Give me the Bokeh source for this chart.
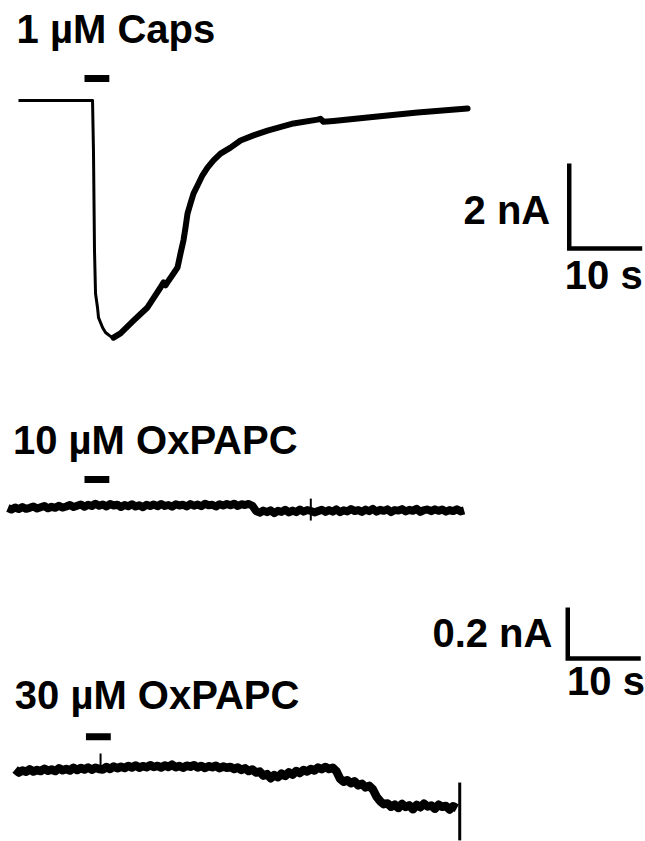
from bokeh.plotting import figure
from bokeh.models import Range1d
from bokeh.core.properties import value
from bokeh.embed import file_html
from bokeh.resources import INLINE

# ---------------- data ----------------
# Trace 1: 1 uM capsaicin (time in s from stimulus onset, current in nA)
caps_t = [-9.04, 1.10, 1.23, 1.37, 1.51, 1.78, 1.92, 2.47, 2.88, 3.56, 3.97, 4.93, 6.71, 8.63,
          10.41, 10.82, 11.10, 11.51, 12.19, 12.74, 13.15, 13.56, 13.84, 14.11, 14.52, 14.93,
          15.48, 16.16, 16.85, 17.67, 18.63, 20.00, 21.37, 23.15, 25.07, 28.63, 31.92,
          32.33, 32.74, 34.11, 38.77, 45.62, 52.47]
caps_i = [0.0, 0.0, -1.18, -3.53, -4.54, -4.87, -5.11, -5.34, -5.46, -5.55, -5.58, -5.48, -5.18, -4.87,
          -4.40, -4.28, -4.35, -4.24, -4.07, -3.93, -3.60, -3.29, -2.99, -2.66, -2.42, -2.19,
          -2.00, -1.76, -1.58, -1.41, -1.25, -1.11, -0.94, -0.82, -0.71, -0.54, -0.45,
          -0.43, -0.50, -0.48, -0.40, -0.28, -0.19]
caps_peak_index = 10  # recovery part (noisier, drawn thicker) starts at the peak

# Trace 2: 10 uM OxPAPC, sampled every 0.5 s from t = -10.5 s
ox10_t0 = -10.5
ox10_dt = 0.5
ox10_i = [-0.010, -0.016, -0.008, -0.014, -0.006, -0.013, -0.009, -0.004, -0.012, -0.007,
          -0.002, -0.011, -0.005, -0.009, -0.001, -0.008, -0.004, 0.002, -0.006, -0.001,
          0.004, -0.005, 0.003, -0.002, 0.007, -0.001, 0.004, -0.004, 0.006, 0.000,
          0.003, -0.006, 0.002, -0.003, 0.005, -0.004, 0.001, -0.007, 0.003, -0.002,
          0.004, -0.003, 0.006, -0.002, 0.002, -0.005, 0.005, 0.000, 0.003, -0.004,
          0.006, -0.001, 0.004, -0.003, 0.007, 0.001, 0.003, -0.004, 0.005, 0.000,
          0.006, 0.001, 0.007, -0.002, 0.005, 0.002, 0.006, -0.001,
          -0.022, -0.028, -0.020, -0.026, -0.019, -0.030, -0.021, -0.025, -0.017, -0.027,
          -0.020, -0.026, -0.016, -0.024, -0.018, -0.021, -0.027, -0.022, -0.017, -0.025,
          -0.018, -0.024, -0.015, -0.026, -0.019, -0.023, -0.014, -0.022, -0.018, -0.025,
          -0.016, -0.022, -0.013, -0.024, -0.017, -0.021, -0.015, -0.026, -0.018, -0.020,
          -0.014, -0.023, -0.017, -0.021, -0.013, -0.025, -0.018, -0.016, -0.022, -0.015,
          -0.021, -0.016, -0.024, -0.018, -0.022, -0.015, -0.023, -0.019]
ox10_spike_t = [31.0, 31.0]
ox10_spike_i = [0.027, -0.059]

# Trace 3: 30 uM OxPAPC, sampled every 0.5 s from t = -9.5 s
ox30_t0 = -9.5
ox30_dt = 0.5
ox30_i = [-0.004, -0.016, -0.008, -0.013, -0.003, -0.012, -0.006, -0.010, -0.001, -0.009,
          -0.004, -0.010, 0.001, -0.007, -0.002, -0.008, 0.003, -0.006, 0.002, -0.004,
          0.004, -0.005, 0.003, -0.002, -0.004, 0.006, -0.002, 0.008, 0.001, 0.007,
          0.002, 0.010, 0.004, 0.012, 0.003, 0.009, 0.005, 0.013, 0.006, 0.010,
          0.004, 0.012, 0.006, 0.015, 0.005, 0.010, 0.003, 0.011, 0.007, 0.013,
          0.004, 0.010, 0.002, 0.009, 0.005, 0.011, 0.001, 0.008, 0.003, 0.006,
          -0.002, 0.004, -0.006, 0.001, -0.010, -0.004, -0.016, -0.012, -0.028, -0.022,
          -0.038, -0.026, -0.034, -0.020, -0.029, -0.015, -0.024, -0.010, -0.018, -0.006,
          -0.012, -0.002, -0.008, 0.004, -0.003, 0.006, -0.002, 0.003, -0.010, -0.040,
          -0.052, -0.046, -0.058, -0.050, -0.066, -0.060, -0.074, -0.068, -0.082, -0.110,
          -0.128, -0.140, -0.137, -0.150, -0.142, -0.155, -0.139, -0.151, -0.144, -0.160,
          -0.143, -0.152, -0.138, -0.149, -0.145, -0.158, -0.142, -0.150, -0.147, -0.161,
          -0.148, -0.156]
ox30_spike_t = [2.2, 2.2]
ox30_spike_i = [0.0, 0.059]
ox30_artifact_t = [51.4, 51.4]
ox30_artifact_i = [-0.055, -0.282]

# stimulus application (s)
stim_on = 0.0
stim_off = 3.4

labels = ["1 \u00b5M Caps", "10 \u00b5M OxPAPC", "30 \u00b5M OxPAPC"]
scale_time = 10        # s
scale_caps = 2         # nA
scale_ox = 0.2         # nA
scale_labels = ["2 nA", "10 s", "0.2 nA", "10 s"]

# ---------------- layout ----------------
W, H = 645, 841
px_per_s = 7.3
origin_px = 84
caps_px_per_nA = 42.5
ox_px_per_nA = 255.0
caps_base_px = 100
ox10_base_px = 505
ox30_base_px = 768
text_lift_px = 13

ox10_t = [ox10_t0 + ox10_dt * k for k in range(len(ox10_i))]
ox30_t = [ox30_t0 + ox30_dt * k for k in range(len(ox30_i))]

p = figure(width=W, height=H, output_backend="svg", toolbar_location=None,
           x_axis_location=None, y_axis_location=None, min_border=0,
           x_range=Range1d(-origin_px / px_per_s, (W - origin_px) / px_per_s),
           y_range=Range1d(-(H - caps_base_px) / caps_px_per_nA, caps_base_px / caps_px_per_nA))
p.extra_y_ranges = {
    "ox10": Range1d(-(H - ox10_base_px) / ox_px_per_nA, ox10_base_px / ox_px_per_nA),
    "ox30": Range1d(-(H - ox30_base_px) / ox_px_per_nA, ox30_base_px / ox_px_per_nA),
}
p.grid.visible = False
p.outline_line_color = None
p.background_fill_color = "white"
p.border_fill_color = "white"

ink = "black"
font = value("Liberation Sans")
fs = "40px"
lift_caps = text_lift_px / caps_px_per_nA
lift_ox = text_lift_px / ox_px_per_nA

# traces
p.line(caps_t, caps_i, line_color=ink, line_width=3, line_join="round")
p.line(caps_t[caps_peak_index:], caps_i[caps_peak_index:], line_color=ink, line_width=6,
       line_join="round", line_cap="round")
p.line(ox10_t, ox10_i, line_color=ink, line_width=8, line_join="round", y_range_name="ox10")
p.line(ox10_spike_t, ox10_spike_i, line_color=ink, line_width=2, y_range_name="ox10")
p.line(ox30_t, ox30_i, line_color=ink, line_width=8.5, line_join="round", y_range_name="ox30")
p.line(ox30_spike_t, ox30_spike_i, line_color=ink, line_width=2, y_range_name="ox30")
p.line(ox30_artifact_t, ox30_artifact_i, line_color=ink, line_width=3, y_range_name="ox30")

# stimulus bars
p.line([stim_on, stim_off], [0.52, 0.52], line_color=ink, line_width=7)
p.line([stim_on, stim_off], [0.102, 0.102], line_color=ink, line_width=7, y_range_name="ox10")
p.line([stim_on + 0.2, stim_off + 0.2], [0.125, 0.125], line_color=ink, line_width=7, y_range_name="ox30")

# scale bars
sb1_t, sb1_y = 66.4, -3.48
p.line([sb1_t, sb1_t, sb1_t + scale_time], [sb1_y + scale_caps, sb1_y, sb1_y],
       line_color=ink, line_width=4.5, line_join="miter")
sb2_t, sb2_y = 66.2, 0.431
p.line([sb2_t, sb2_t, sb2_t + scale_time], [sb2_y + scale_ox, sb2_y, sb2_y],
       line_color=ink, line_width=4.5, line_join="miter", y_range_name="ox30")

# texts
common = dict(text_font=font, text_font_style="bold", text_font_size=fs,
              text_color=ink, text_baseline="alphabetic")
p.text(x=[-9.3], y=[1.365 + lift_caps], text=[labels[0]], text_align="left", **common)
p.text(x=[-9.8], y=[0.204 + lift_ox], text=[labels[1]], text_align="left", y_range_name="ox10", **common)
p.text(x=[-9.55], y=[0.239 + lift_ox], text=[labels[2]], text_align="left", y_range_name="ox30", **common)
p.text(x=[63.8], y=[-2.89 + lift_caps], text=[scale_labels[0]], text_align="right", **common)
p.text(x=[65.8], y=[-4.40 + lift_caps], text=[scale_labels[1]], text_align="left", **common)
p.text(x=[64.1], y=[0.482 + lift_ox], text=[scale_labels[2]], text_align="right", y_range_name="ox30", **common)
p.text(x=[66.1], y=[0.294 + lift_ox], text=[scale_labels[3]], text_align="left", y_range_name="ox30", **common)

open("out.html", "w").write(file_html(p, INLINE))
